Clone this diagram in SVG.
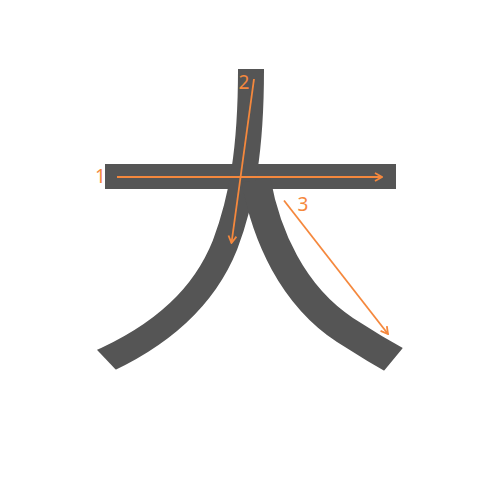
<svg xmlns="http://www.w3.org/2000/svg" width="500" height="500" viewBox="0 0 500 500">
  <style>
    .stroke { fill: none; stroke: #555555; stroke-linecap: butt; }
    .arrow { fill: none; stroke: #F5883D; stroke-width: 1.8; marker-end: url(#head); }
    .num { fill: #F5883D; font-family: "Noto Sans", "DejaVu Sans", sans-serif; font-size: 19px; }
  </style>
  <defs>
    <marker id="head" viewBox="0 0 10 10" refX="9" refY="5" markerWidth="10" markerHeight="10" markerUnits="userSpaceOnUse" orient="auto">
      <path d="M2,1 L9,5 L2,9" fill="none" stroke="#F5883D" stroke-width="1.8"/>
    </marker>
    <clipPath id="cutLeft">
      <polygon points="-91,152 175,432 500,432 500,69 0,69 -91,69"/>
    </clipPath>
    <clipPath id="cutRight">
      <polygon points="0,0 500,0 500,200 402,349 383,372 365,500 0,500"/>
    </clipPath>
  </defs>
  <rect width="500" height="500" fill="#ffffff"/>
  <g id="stroke1">
    <rect x="105" y="164" width="291" height="25" fill="#555555"/>
  </g>
  <g id="stroke2">
    <path class="stroke" stroke-width="26" clip-path="url(#cutLeft)" d="M251,60 L251,69 C251,150 242,200 225,245 C205,295 165,335 95,365"/>
  </g>
  <g id="stroke3">
    <path class="stroke" stroke-width="29" clip-path="url(#cutRight)" d="M256,180 C266,235 292,295 345,330 C365,343 385,355 405,366"/>
  </g>
  <g id="connectors">
    <line class="arrow" x1="117" y1="177" x2="382" y2="177"/>
    <line class="arrow" x1="254" y1="79" x2="231.5" y2="243"/>
    <line class="arrow" x1="284" y1="200.5" x2="388" y2="334"/>
  </g>
  <g id="labels">
    <text class="num" x="95" y="182.5">1</text>
    <text class="num" x="238.5" y="89">2</text>
    <text class="num" x="297.5" y="211">3</text>
  </g>
</svg>
